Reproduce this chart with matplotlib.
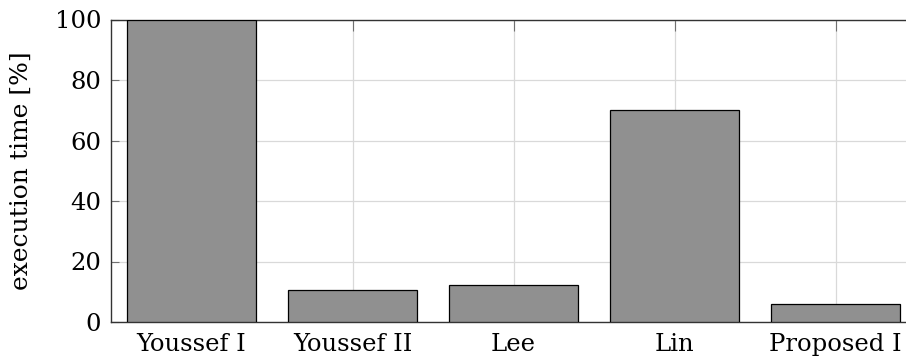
import matplotlib
matplotlib.use('Agg')
import matplotlib.pyplot as plt

# data
methods = ['Youssef I', 'Youssef II', 'Lee', 'Lin', 'Proposed I']
exec_time = [100, 10.6, 12.3, 70.1, 5.8]
yticks = [0, 20, 40, 60, 80, 100]

plt.rcParams['font.family'] = ['DejaVu Serif']

fig = plt.figure(figsize=(9.06, 3.61), dpi=100)
# axes runs past the right edge of the picture, as in the reference
ax = fig.add_axes([111 / 906, 1 - 322 / 361, 805 / 906, 302.5 / 361])

x = list(range(len(methods)))
ax.bar(x, exec_time, width=0.8, color='#909090', edgecolor='black', linewidth=0.9, zorder=3)

ax.set_xlim(-0.5, 4.5)
ax.set_ylim(0, 100)
ax.set_xticks(x)
ax.set_xticklabels(methods)
ax.set_yticks(yticks)
ax.grid(True, color='#d9d9d9', linewidth=0.9, zorder=0)
ax.set_axisbelow(True)

ax.tick_params(axis='both', direction='in', length=6, color='#707070', labelsize=17.5, pad=7)
ax.tick_params(axis='x', bottom=False, top=True, length=8, pad=8)
ax.tick_params(axis='y', right=False)
for s in ax.spines.values():
    s.set_color('#333333')
    s.set_linewidth(1.0)

ax.set_ylabel('execution time [%]', fontsize=18, labelpad=16)

plt.savefig('out.png', dpi=100)
